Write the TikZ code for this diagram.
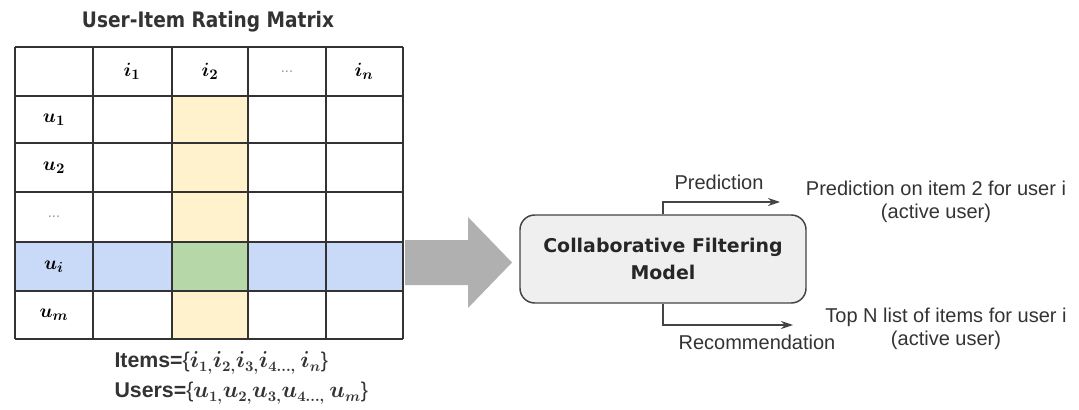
\documentclass[tikz,border=0pt]{standalone}
\usepackage{fontspec}
\usepackage{amsmath}
\usetikzlibrary{arrows.meta}
\setmainfont{Liberation Sans}
\newfontfamily\titlefont[FakeStretch=0.87]{DejaVu Sans}
\newfontfamily\modelfont{DejaVu Sans}

\definecolor{gridc}{RGB}{51,51,51}
\definecolor{rowblue}{RGB}{201,218,248}
\definecolor{colyellow}{RGB}{255,242,204}
\definecolor{cellgreen}{RGB}{182,215,168}
\definecolor{arrowgray}{RGB}{176,176,176}
\definecolor{boxfill}{RGB}{239,239,239}
\definecolor{boxc}{RGB}{68,68,68}
\definecolor{textc}{RGB}{51,51,51}
\definecolor{dotgray}{RGB}{150,150,150}

\tikzset{every picture/.style={line width=0.75pt}}
\tikzset{
  gridline/.style={draw=gridc, line width=1.1pt},
  cellmath/.style={font=\boldmath\fontsize{15}{17}\selectfont},
  celldots/.style={font=\fontsize{11}{12}\selectfont, text=dotgray},
  note/.style={font=\fontsize{15}{17.5}\selectfont, text=textc, align=center},
  setline/.style={anchor=west, font=\fontsize{16}{18}\selectfont, text=textc, inner sep=0pt},
  flowarrow/.style={draw=boxc, line width=1pt, -{Stealth[length=9pt,width=6pt]}},
}

\begin{document}
\begin{tikzpicture}[x=0.75pt,y=0.75pt,yscale=-1,xscale=1]
	\useasboundingbox[fill=white] (0,0) rectangle (1079,410);

	% Text Node
	\draw (208,22) node (title) [font=\titlefont\bfseries\fontsize{16}{19}\selectfont, text=textc] {User-Item Rating Matrix};

	%Shape: Rectangle [id:row-ui]
	\fill [rowblue] (15,242) rectangle (403,291) ;
	%Shape: Rectangle [id:col-i2]
	\fill [colyellow] (172,96) rectangle (248,339) ;
	%Shape: Rectangle [id:cell-ui-i2]
	\fill [cellgreen] (172,242) rectangle (248,291) ;

	%Straight Lines [id:rows]
	\draw [gridline] (15,47) -- (403,47) ;
	\draw [gridline] (15,96) -- (403,96) ;
	\draw [gridline] (15,143) -- (403,143) ;
	\draw [gridline] (15,192) -- (403,192) ;
	\draw [gridline] (15,242) -- (403,242) ;
	\draw [gridline] (15,291) -- (403,291) ;
	\draw [gridline] (15,339) -- (403,339) ;
	%Straight Lines [id:cols]
	\draw [gridline] (15,47) -- (15,339) ;
	\draw [gridline] (93,47) -- (93,339) ;
	\draw [gridline] (172,47) -- (172,339) ;
	\draw [gridline] (248,47) -- (248,339) ;
	\draw [gridline] (326,47) -- (326,339) ;
	\draw [gridline] (403,47) -- (403,339) ;

	% Text Node
	\draw (132,71.5) node (i1) [cellmath] {$i_1$};
	% Text Node
	\draw (210,71.5) node (i2) [cellmath] {$i_2$};
	% Text Node
	\draw (287,71.5) node (idots) [celldots] {...};
	% Text Node
	\draw (364,71.5) node (in) [cellmath] {$i_n$};
	% Text Node
	\draw (54,120) node (u1) [cellmath] {$u_1$};
	% Text Node
	\draw (54,167.5) node (u2) [cellmath] {$u_2$};
	% Text Node
	\draw (54,217) node (udots) [celldots] {...};
	% Text Node
	\draw (54,266.5) node (ui) [cellmath] {$u_i$};
	% Text Node
	\draw (54,315) node (um) [cellmath] {$u_m$};

	% Text Node
	\draw (114,363) node (items) [setline] {\textbf{Items=}\{{\boldmath$i_{1,}i_{2,}i_{3,}i_{4\ldots,}\,i_{n}$}\}};
	% Text Node
	\draw (114,393) node (users) [setline] {\textbf{Users=}\{{\boldmath$u_{1,}u_{2,}u_{3,}u_{4\ldots,}\,u_{m}$}\}};

	%Right Arrow [id:bigarrow]
	\fill [arrowgray] (405,240) -- (468,240) -- (468,217) -- (512,262.5) -- (468,308) -- (468,285) -- (405,285) -- cycle ;

	% Text Node
	\draw (663,259) node (cfm) [draw=boxc, fill=boxfill, line width=1.1pt, rounded corners=11pt, minimum width=214.5pt, minimum height=66pt, align=center, font=\modelfont\bfseries\fontsize{14.2}{20}\selectfont, text=black!85] {Collaborative Filtering\\Model};

	\coordinate (predtip) at (780,202) ;
	\coordinate (rectip) at (793,325) ;
	%Straight Lines [id:pred]
	\draw [flowarrow] (cfm.north) |- (predtip) ;
	%Straight Lines [id:rec]
	\draw [flowarrow] (cfm.south) |- (rectip) ;

	% Text Node
	\draw (719,182) node (predlbl) [note] {Prediction};
	% Text Node
	\draw (757,342) node (reclbl) [note] {Recommendation};
	% Text Node
	\draw (936,201.5) node (predout) [note] {Prediction on item 2 for user i\\(active user)};
	% Text Node
	\draw (946,329) node (recout) [note] {Top N list of items for user i\\(active user)};

\end{tikzpicture}
\end{document}
